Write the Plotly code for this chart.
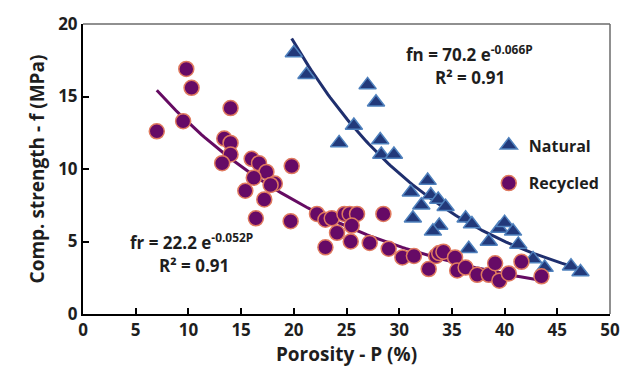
import plotly.graph_objects as go
import numpy as np

# Natural aggregate data (porosity %, strength MPa)
nat_p = [20.0, 21.2, 27.0, 27.8, 25.7, 24.3, 28.2, 28.3, 29.5, 32.7, 31.1, 33.0,
         33.7, 32.1, 34.4, 31.3, 33.8, 33.2, 36.3, 36.9, 36.6, 38.5, 39.5, 40.0,
         40.8, 41.3, 42.7, 43.8, 46.3, 47.2]
nat_f = [18.0, 16.5, 15.8, 14.6, 13.0, 11.8, 12.0, 11.0, 11.0, 9.2, 8.4, 8.2,
         7.9, 7.5, 7.4, 6.6, 6.1, 5.7, 6.6, 6.2, 4.5, 5.0, 5.9, 6.3,
         5.7, 4.8, 3.8, 3.2, 3.3, 2.9]

# Recycled aggregate data
rec_p = [7.0, 9.8, 10.3, 9.5, 14.0, 13.4, 14.0, 14.0, 13.2, 16.0, 16.7, 17.4,
         19.8, 16.2, 18.2, 17.8, 15.4, 17.2, 16.4, 19.7, 22.2, 23.0, 23.6, 24.8,
         25.3, 26.0, 24.1, 25.5, 25.4, 23.0, 27.2, 28.5, 29.0, 30.3, 31.4, 32.8,
         33.5, 33.8, 34.2, 35.3, 35.5, 36.3, 37.4, 38.5, 39.1, 39.5, 40.4, 41.6, 43.5]
rec_f = [12.6, 16.9, 15.6, 13.3, 14.2, 12.1, 11.8, 11.0, 10.4, 10.7, 10.4, 9.8,
         10.2, 9.4, 9.0, 8.9, 8.5, 7.9, 6.6, 6.4, 6.9, 6.5, 6.6, 6.9,
         6.9, 6.9, 5.6, 6.1, 5.0, 4.6, 4.9, 6.9, 4.5, 3.9, 4.0, 3.1,
         4.0, 4.2, 4.3, 3.9, 3.0, 3.2, 2.7, 2.7, 3.5, 2.3, 2.8, 3.6, 2.6]

# Exponential fits shown on the chart
nat_fit = {"a": 70.2, "b": 0.066, "p_min": 19.8, "p_max": 47.0}
rec_fit = {"a": 22.2, "b": 0.052, "p_min": 7.0, "p_max": 43.0}

x_ticks = [0, 5, 10, 15, 20, 25, 30, 35, 40, 45, 50]
y_ticks = [0, 5, 10, 15, 20]

FONT = "Open Sans"
NAVY = "#1F2F6E"
PURPLE = "#650B62"
TXT = "#1e1e1e"

def fit_curve(f):
    p = np.linspace(f["p_min"], f["p_max"], 120)
    return p, f["a"] * np.exp(-f["b"] * p)

fig = go.Figure()

px_, py_ = fit_curve(nat_fit)
fig.add_trace(go.Scatter(x=px_, y=py_, mode="lines", line=dict(color=NAVY, width=3),
                         showlegend=False, hoverinfo="skip"))
px_, py_ = fit_curve(rec_fit)
fig.add_trace(go.Scatter(x=px_, y=py_, mode="lines", line=dict(color=PURPLE, width=3),
                         showlegend=False, hoverinfo="skip"))

fig.add_trace(go.Scatter(x=nat_p, y=nat_f, mode="markers", name="Natural", legendgroup="n",
                         marker=dict(symbol="triangle-up", size=15, color="#22397A",
                                     line=dict(color="#4F81BD", width=1.5))))
fig.add_trace(go.Scatter(x=rec_p, y=rec_f, mode="markers", name="Recycled", legendgroup="r",
                         marker=dict(symbol="circle", size=15, color="#660A66",
                                     line=dict(color="#E07A5F", width=1.5))))

axis_common = dict(showgrid=False, zeroline=False, showline=True, linecolor="black",
                   linewidth=2, ticks="inside", ticklen=6, tickwidth=1.5, tickcolor="black",
                   tickfont=dict(family=FONT, size=17, color=TXT, weight="bold"))

fig.update_xaxes(range=[0, 50], tickvals=x_ticks, ticktext=[str(v) for v in x_ticks],
                 title=dict(text="Porosity - P (%)", standoff=6,
                            font=dict(family=FONT, size=19, color=TXT, weight="bold")),
                 **axis_common)
fig.update_yaxes(range=[0, 20], tickvals=y_ticks, ticktext=[str(v) for v in y_ticks],
                 title=dict(text="Comp. strength - f (MPa)", standoff=8,
                            font=dict(family=FONT, size=19, color=TXT, weight="bold")),
                 **axis_common)

# gray top/right frame
fig.add_shape(type="line", xref="paper", yref="paper", x0=0, x1=1, y0=1, y1=1,
              line=dict(color="#6b6b6b", width=1.5))
fig.add_shape(type="line", xref="paper", yref="paper", x0=1, x1=1, y0=0, y1=1,
              line=dict(color="#6b6b6b", width=1.5))

ann_font = dict(family=FONT, size=17, color=TXT, weight="bold")
fig.add_annotation(x=36.7, y=17.96, xref="x", yref="y", showarrow=False,
                   text="fn = 70.2 e<sup>-0.066P</sup>", font=ann_font)
fig.add_annotation(x=36.7, y=16.3, xref="x", yref="y", showarrow=False,
                   text="R² = 0.91", font=ann_font)
fig.add_annotation(x=10.3, y=5.03, xref="x", yref="y", showarrow=False,
                   text="fr = 22.2 e<sup>-0.052P</sup>", font=ann_font)
fig.add_annotation(x=10.5, y=3.33, xref="x", yref="y", showarrow=False,
                   text="R² = 0.91", font=ann_font)

fig.update_layout(
    width=632, height=376,
    margin=dict(l=83, r=16, t=20, b=62),
    paper_bgcolor="white", plot_bgcolor="white",
    legend=dict(x=0.77, y=0.64, xanchor="left", yanchor="top", bgcolor="rgba(0,0,0,0)",
                tracegroupgap=14, itemwidth=30,
                font=dict(family=FONT, size=16, color=TXT, weight="bold")),
)

fig.write_html("out.html")
